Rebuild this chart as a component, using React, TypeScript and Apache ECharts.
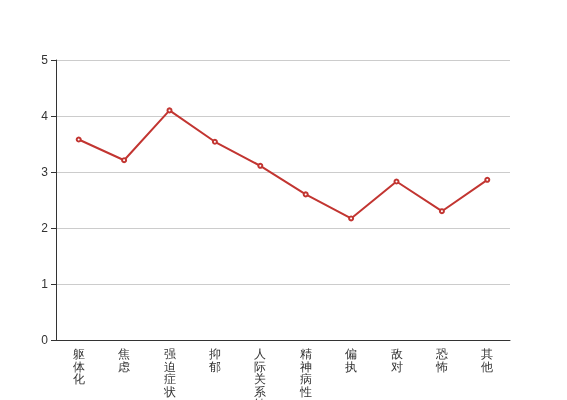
import React, { useEffect, useRef } from "react";
import * as echarts from "echarts";

const categories = ["躯体化", "焦虑", "强迫症状", "抑郁", "人际关系敏感", "精神病性", "偏执", "敌对", "恐怖", "其他"];
const values = [3.58, 3.21, 4.1, 3.54, 3.11, 2.6, 2.17, 2.83, 2.3, 2.86];

export default function App() {
  const ref = useRef<HTMLDivElement>(null);
  useEffect(() => {
    if (!ref.current) return;
    const chart = echarts.init(ref.current, undefined, { renderer: "svg" });
    chart.setOption({
      animation: false,
      grid: { left: 56, right: 57, top: 60, bottom: 60, outerBoundsMode: "none", containLabel: false },
      xAxis: {
        type: "category",
        data: categories,
        axisLine: { lineStyle: { color: "#333" } },
        axisTick: { lineStyle: { color: "#333" } },
        axisLabel: {
          interval: 0,
          color: "#333",
          fontSize: 12,
          lineHeight: 12.5,
          formatter: (v: string) => v.split("").join("\n"),
        },
      },
      yAxis: {
        type: "value",
        min: 0,
        max: 5,
        interval: 1,
        axisLine: { show: true, lineStyle: { color: "#333" } },
        axisTick: { show: true, lineStyle: { color: "#333" } },
        axisLabel: { color: "#333", fontSize: 12 },
        splitLine: { lineStyle: { color: "#ccc" } },
      },
      series: [
        {
          type: "line",
          data: values,
          symbol: "emptyCircle",
          symbolSize: 4,
          itemStyle: { color: "#c23531" },
          lineStyle: { color: "#c23531", width: 2 },
        },
      ],
    });
    return () => chart.dispose();
  }, []);
  return <div ref={ref} style={{ position: "fixed", left: 0, top: 0, width: 567, height: 400 }} />;
}
